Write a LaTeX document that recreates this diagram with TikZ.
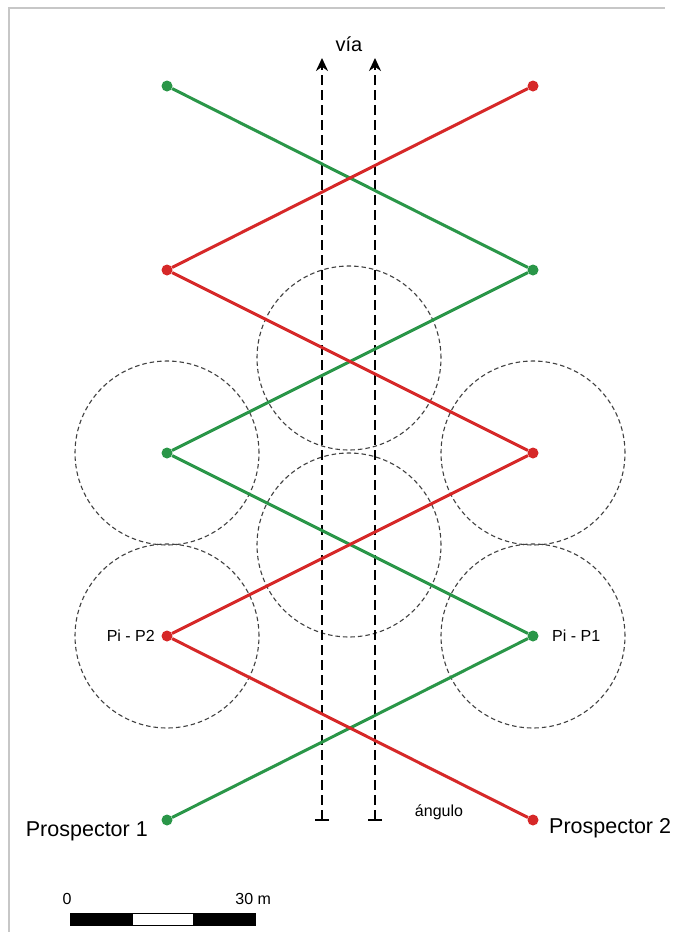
\documentclass[tikz,border=0pt]{standalone}
\usepackage{fontspec}
\setmainfont{Liberation Sans}
\usetikzlibrary{arrows.meta,positioning,calc}
\definecolor{pgreen}{HTML}{2A9648}
\definecolor{pred}{HTML}{D62828}
\tikzset{
  gdot/.style={circle,fill=pgreen,inner sep=0pt,minimum size=11pt},
  rdot/.style={circle,fill=pred,inner sep=0pt,minimum size=11pt},
  gpath/.style={draw=pgreen,line width=3pt},
  rpath/.style={draw=pred,line width=3pt},
  reachcircle/.style={draw=black!75,line width=1.1pt,dash pattern=on 4.5pt off 3pt},
  lane/.style={{Bar[width=14pt,line width=1.8pt]}-{Stealth[length=13pt,width=12pt]},line width=2.5pt,dash pattern=on 10pt off 5pt},
  lbl/.style={inner sep=0pt,font=\fontsize{21.5}{23}\selectfont},
  smalllbl/.style={inner sep=0pt,font=\fontsize{16}{18}\selectfont},
  sbar/.style={draw=black,line width=0.7pt,minimum width=61pt,minimum height=12pt,inner sep=0pt}
}
\begin{document}
\begin{tikzpicture}[x=1pt,y=-1pt]
  \useasboundingbox (0,0) rectangle (678,932);
  % faint frame of the sheet
  \draw[black!22,line width=1.5pt] (9,932) -- (9,8) -- (665,8);

  % station points
  \node[gdot] (g1) at (167,86) {};
  \node[gdot] (g2) at (533,270) {};
  \node[gdot] (g3) at (167,453) {};
  \node[gdot] (g4) at (533,636) {};
  \node[gdot] (g5) at (167,820) {};
  \node[rdot] (r1) at (533,86) {};
  \node[rdot] (r2) at (167,270) {};
  \node[rdot] (r3) at (533,453) {};
  \node[rdot] (r4) at (167,636) {};
  \node[rdot] (r5) at (533,820) {};
  \coordinate (c1) at (349,358);
  \coordinate (c2) at (349,545);

  % dashed ranges
  \foreach \p in {g3,r4,r3,g4,c1,c2}
    \draw[reachcircle] (\p) circle (92pt);

  % road
  \coordinate (la) at (322,821);
  \coordinate (lb) at (375,821);
  \coordinate (ta) at (322,58);
  \coordinate (tb) at (375,58);
  \draw[lane] (la) -- (ta);
  \draw[lane] (lb) -- (tb);
  \node[font=\fontsize{20}{22}\selectfont,inner sep=0pt] (via) at (349,44) {vía};

  % zigzag paths
  \draw[gpath] (g1) -- (g2) -- (g3) -- (g4) -- (g5);
  \draw[rpath] (r1) -- (r2) -- (r3) -- (r4) -- (r5);

  % labels
  \node[lbl,anchor=east] (p1) at (148,831) {Prospector 1};
  \node[lbl,anchor=west] (p2) at (549,828) {Prospector 2};
  \node[smalllbl,anchor=east] (pp2) at (155,636) {Pi - P2};
  \node[smalllbl,anchor=west] (pp1) at (552,636) {Pi - P1};
  \node[smalllbl] (ang) at (439,812) {ángulo};

  % scale bar
  \node[sbar,fill=black] (s1) at (101,919) {};
  \node[sbar,fill=white,right=0pt of s1] (s2) {};
  \node[sbar,fill=black,right=0pt of s2] (s3) {};
  \node[smalllbl,anchor=south] (z0) at ($(s1.north west)+(-3,-8)$) {0};
  \node[smalllbl,anchor=south] (z30) at ($(s3.north east)+(-2,-8)$) {30 m};
\end{tikzpicture}
\end{document}
